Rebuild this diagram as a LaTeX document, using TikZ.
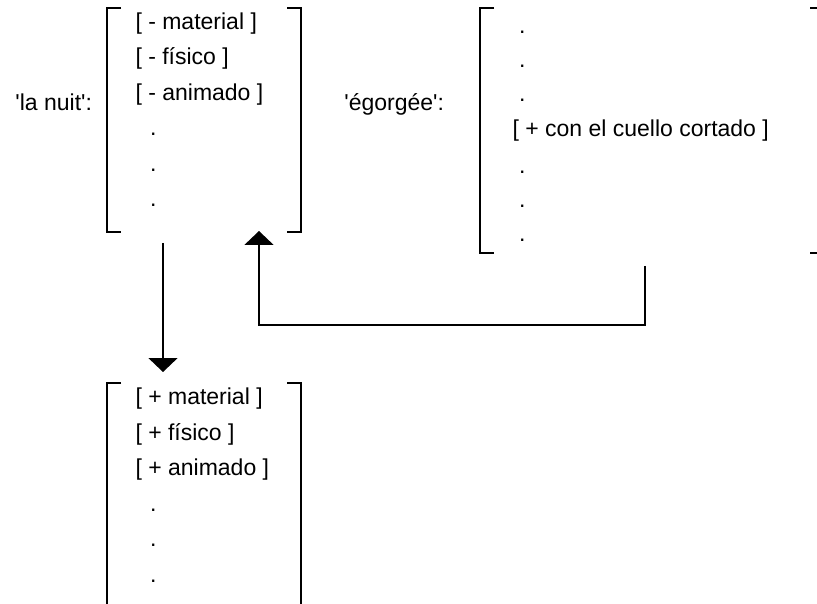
\documentclass[tikz,border=0pt]{standalone}
\usepackage{fontspec}
\setmainfont{Liberation Sans}
\usetikzlibrary{arrows.meta}
\begin{document}
\begin{tikzpicture}[x=1pt,y=-1pt,
  txt/.style={anchor=base west,inner sep=0pt,outer sep=0pt,font=\fontsize{23}{27}\selectfont},
  lbl/.style={anchor=base east,inner sep=0pt,outer sep=0pt,font=\fontsize{23}{27}\selectfont},
  brk/.style={line width=1.8pt,line cap=butt,line join=miter},
  conn/.style={line width=1.8pt,-{Triangle[width=29pt,length=14pt]}}]
\useasboundingbox (0,0) rectangle (817,604);
\fill[white] (0,0) rectangle (817,604);
\clip (0,0) rectangle (817,604);
% box 1: la nuit
\node[lbl] (l1) at (92,111) {\textquotesingle la nuit\textquotesingle:};
\draw[brk] (121,8) -- (107,8) -- (107,232) -- (121,232);
\draw[brk] (287,8) -- (301,8) -- (301,232) -- (287,232);
\node[txt] (a1) at (135.5,29.5) {[ - material ]};
\node[txt] (a2) at (135.5,65) {[ - físico ]};
\node[txt] (a3) at (135.5,100.5) {[ - animado ]};
\node[txt] (a4) at (150,136) {.};
\node[txt] (a5) at (150,171.5) {.};
\node[txt] (a6) at (150,207) {.};
% box 2: egorgee
\node[lbl] (l2) at (444,111) {\textquotesingle égorgée\textquotesingle:};
\draw[brk] (494,8) -- (480,8) -- (480,253) -- (494,253);
\draw[brk] (810,8) -- (818,8) -- (818,253) -- (810,253);
\node[txt] (b1) at (519,34) {.};
\node[txt] (b2) at (519,68) {.};
\node[txt] (b3) at (519,102) {.};
\node[txt] (b4) at (512.5,137) {[ + con el cuello cortado ]};
\node[txt] (b5) at (519,173.5) {.};
\node[txt] (b6) at (519,207.5) {.};
\node[txt] (b7) at (519,241.5) {.};
% box 3
\draw[brk] (121,383) -- (107,383) -- (107,610);
\draw[brk] (287,383) -- (301,383) -- (301,610);
\node[txt] (c1) at (135.5,404.5) {[ + material ]};
\node[txt] (c2) at (135.5,440) {[ + físico ]};
\node[txt] (c3) at (135.5,475.5) {[ + animado ]};
\node[txt] (c4) at (150,511) {.};
\node[txt] (c5) at (150,546.5) {.};
\node[txt] (c6) at (150,582) {.};
% connectors
\coordinate (d0) at (163,243);
\coordinate (d1) at (163,372);
\coordinate (u0) at (645,266);
\coordinate (u1) at (645,325);
\coordinate (u2) at (259,325);
\coordinate (u3) at (259,231);
\draw[conn] (d0) -- (d1);
\draw[conn] (u0) -- (u1) -- (u2) -- (u3);
\end{tikzpicture}
\end{document}
